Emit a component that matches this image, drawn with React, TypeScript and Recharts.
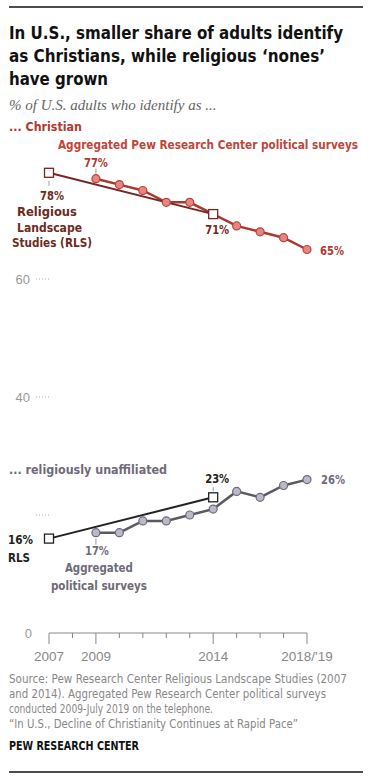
import React from 'react';
import { LineChart, Line, XAxis, YAxis, LabelList } from 'recharts';

const years = [2007, 2008, 2009, 2010, 2011, 2012, 2013, 2014, 2015, 2016, 2017, 2018];
const christianRLS = [78, null, null, null, null, null, null, 71, null, null, null, null];
const christianPolitical = [null, null, 77, 76, 75, 73, 73, 71, 69, 68, 67, 65];
const nonesRLS = [16, null, null, null, null, null, null, 23, null, null, null, null];
const nonesPolitical = [null, null, 17, 17, 19, 19, 20, 21, 24, 23, 25, 26];
const yTicks = [0, 20, 40, 60];
const xLabels: Record<number, string> = { 2007: '2007', 2009: '2009', 2014: '2014', 2018: "2018/'19" };

const data = years.map((year, i) => ({
  year,
  chrRLS: christianRLS[i],
  chrPol: christianPolitical[i],
  nonRLS: nonesRLS[i],
  nonPol: nonesPolitical[i],
}));

const DJV = "'DejaVu Sans', sans-serif";
const SANS = "'Liberation Sans', Arial, sans-serif";

const RED = '#b0392f';
const RED_DARK = '#6e2a22';
const GREY = '#6f6a7a';

// text squeezed to the width measured on the reference (Franklin Gothic is narrow)
const T = ({ x, y, w, size = 12.5, bold = true, color = '#111', anchor = 'start', children, ...rest }: any) => (
  <text
    x={x}
    y={y}
    textAnchor={anchor}
    fill={color}
    fontFamily={DJV}
    fontWeight={bold ? 'bold' : 'normal'}
    fontSize={size}
    fontStretch="condensed"
    textLength={w}
    lengthAdjust={w ? 'spacingAndGlyphs' : undefined}
    {...rest}
  >
    {children}
  </text>
);

const square = (stroke: string) => (props: any) => {
  const { cx, cy, index } = props;
  if (cx == null || cy == null) return <g key={`sq-${index}`} />;
  return <rect key={`sq-${index}`} x={cx - 4.5} y={cy - 4.5} width={9} height={9} fill="#fff" stroke={stroke} strokeWidth={1.3} />;
};

// y is the text centre; baseline sits ~0.36em below
const lbl = (x: number, y: number, s: string, color: string, w?: number, anchor = 'middle') => (
  <T x={x} y={y + 4.5} w={w} color={color} anchor={anchor}>
    {s}
  </T>
);

const pctLabel = (key: string) => (props: any) => {
  const { x, y, index, value } = props;
  if (value == null || x == null) return null;
  const year = years[index];
  const pct = `${value}%`;
  if (key === 'chrPol' && year === 2009) {
    return (
      <g>
        <line x1={x} x2={x} y1={y - 10} y2={y - 5} stroke="#999" />
        {lbl(x, y - 16, pct, RED, 24)}
      </g>
    );
  }
  if (key === 'chrPol' && year === 2018) return lbl(x + 13, y + 1, pct, RED, 24, 'start');
  if (key === 'chrRLS' && year === 2007) {
    return (
      <g>
        <line x1={x} x2={x} y1={y + 8} y2={y + 13} stroke="#999" />
        {lbl(x + 3, y + 23, pct, RED_DARK, 24)}
        {lbl(x - 2, y + 39, 'Religious', RED_DARK, 60)}
        {lbl(x + 0.5, y + 55, 'Landscape', RED_DARK, 65)}
        {lbl(x + 3, y + 70, 'Studies (RLS)', RED_DARK, 80)}
      </g>
    );
  }
  if (key === 'chrRLS' && year === 2014) return lbl(x + 4, y + 15, pct, RED_DARK, 24);
  if (key === 'nonRLS' && year === 2007) {
    return (
      <g>
        {lbl(x - 41, y + 1, pct, '#222', 25, 'start')}
        {lbl(x - 41, y + 19, 'RLS', '#222', 22, 'start')}
      </g>
    );
  }
  if (key === 'nonRLS' && year === 2014) {
    return (
      <g>
        <line x1={x} x2={x} y1={y - 10} y2={y - 6} stroke="#999" />
        {lbl(x + 4, y - 19, pct, '#222', 24)}
      </g>
    );
  }
  if (key === 'nonPol' && year === 2009) {
    return (
      <g>
        <line x1={x} x2={x} y1={y + 6} y2={y + 12} stroke="#999" />
        {lbl(x + 1, y + 18, pct, GREY, 24)}
        {lbl(x + 3, y + 35, 'Aggregated', GREY, 68)}
        {lbl(x + 3, y + 53, 'political surveys', GREY, 96)}
      </g>
    );
  }
  if (key === 'nonPol' && year === 2018) return lbl(x + 14, y, pct, GREY, 24, 'start');
  return null;
};

const XTick = (props: any) => {
  const { x, y, payload } = props;
  const label = xLabels[payload.value];
  return (
    <g>
      <line x1={x} x2={x} y1={y} y2={y + (label ? 11 : 5)} stroke="#888" strokeWidth={1} />
      {label && (
        <text x={x} y={y + 23} dy="0.35em" textAnchor="middle" fill="#888" fontFamily={SANS} fontSize={13.5}>
          {label}
        </text>
      )}
    </g>
  );
};

const YTick = (props: any) => {
  const { x, y, payload } = props;
  const v = payload.value;
  return (
    <g>
      {v !== 0 && <line x1={x - 13} x2={x} y1={y} y2={y} stroke="#aaa" strokeDasharray="1 2" />}
      {v !== 20 && (
        <text x={v === 0 ? x - 17 : x - 19} y={y} dy="0.35em" textAnchor="end" fill="#999" fontFamily={SANS} fontSize={13}>
          {v}
        </text>
      )}
    </g>
  );
};

export default function App() {
  return (
    <div style={{ position: 'absolute', left: 0, top: 0, width: 377, height: 784, background: '#fff', overflow: 'hidden' }}>
      <div style={{ position: 'absolute', left: 0, top: 0 }}>
        <LineChart width={377} height={784} data={data} margin={{ top: 161, right: 70, bottom: 150, left: 48 }}>
          <XAxis
            dataKey="year"
            type="number"
            domain={[2007, 2018]}
            ticks={years}
            height={1}
            tickSize={0}
            tickMargin={0}
            tick={<XTick />}
            axisLine={{ stroke: '#888' }}
            tickLine={false}
            interval={0}
          />
          <YAxis
            type="number"
            domain={[0, 80]}
            ticks={yTicks}
            width={1}
            tickSize={0}
            tickMargin={0}
            tick={<YTick />}
            axisLine={false}
            tickLine={false}
            interval={0}
          />
          <Line
            dataKey="chrPol"
            stroke="#a8392f"
            strokeWidth={2.5}
            isAnimationActive={false}
            dot={{ r: 4, fill: '#e8857f', stroke: '#b5443d', strokeWidth: 1.2 }}
          >
            <LabelList dataKey="chrPol" content={pctLabel('chrPol')} />
          </Line>
          <Line
            dataKey="chrRLS"
            stroke="#7a2522"
            strokeWidth={2}
            connectNulls
            isAnimationActive={false}
            dot={square('#7a2522')}
          >
            <LabelList dataKey="chrRLS" content={pctLabel('chrRLS')} />
          </Line>
          <Line
            dataKey="nonPol"
            stroke="#5c5963"
            strokeWidth={2.5}
            isAnimationActive={false}
            dot={{ r: 4, fill: '#bcb8c9', stroke: '#6e6a7a', strokeWidth: 1.2 }}
          >
            <LabelList dataKey="nonPol" content={pctLabel('nonPol')} />
          </Line>
          <Line
            dataKey="nonRLS"
            stroke="#222"
            strokeWidth={2}
            connectNulls
            isAnimationActive={false}
            dot={square('#222')}
          >
            <LabelList dataKey="nonRLS" content={pctLabel('nonRLS')} />
          </Line>
        </LineChart>
      </div>

      <svg width={377} height={784} style={{ position: 'absolute', left: 0, top: 0, pointerEvents: 'none' }}>
        <line x1={9} x2={363} y1={7} y2={7} stroke="#111" strokeWidth={1.5} />
        <T x={9} y={38.5} w={334} size={17.5}>In U.S., smaller share of adults identify</T>
        <T x={9} y={61.5} w={316} size={17.5}>as Christians, while religious ‘nones’</T>
        <T x={9} y={84.5} w={99} size={17.5}>have grown</T>
        <text x={9} y={110} fill="#666" fontFamily="'Liberation Serif', serif" fontStyle="italic" fontSize={15}>
          % of U.S. adults who identify as ...
        </text>
        <T x={9} y={131} w={73} color={RED}>... Christian</T>
        <T x={58} y={149} w={300} size={11.8} color="#c0453a">Aggregated Pew Research Center political surveys</T>
        <T x={9} y={474} w={158} color={GREY}>... religiously unaffiliated</T>

        <T x={9} y={682.5} w={338} size={11.5} bold={false} color="#888">
          Source: Pew Research Center Religious Landscape Studies (2007
        </T>
        <T x={9} y={697.5} w={317} size={11.5} bold={false} color="#888">
          and 2014). Aggregated Pew Research Center political surveys
        </T>
        <T x={9} y={712.5} w={204} size={11.5} bold={false} color="#888">
          conducted 2009-July 2019 on the telephone.
        </T>
        <T x={9} y={727.5} w={289} size={11.5} bold={false} color="#888">
          “In U.S., Decline of Christianity Continues at Rapid Pace”
        </T>
        <T x={9} y={750} w={130} size={11.5}>PEW RESEARCH CENTER</T>
        <line x1={9} x2={363} y1={772} y2={772} stroke="#111" strokeWidth={1.5} />
      </svg>
    </div>
  );
}
